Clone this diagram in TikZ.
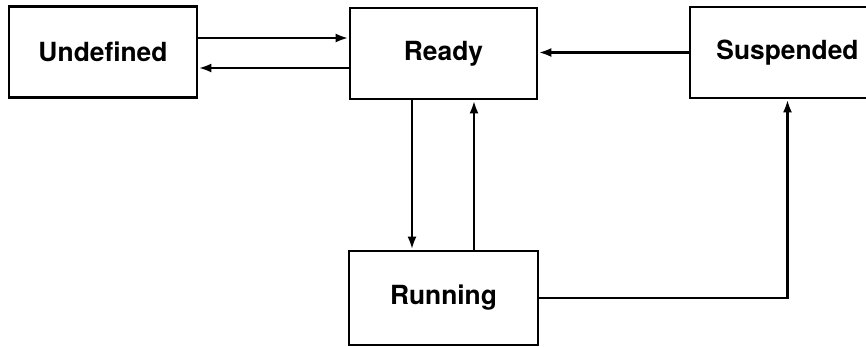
\documentclass[tikz,border=0pt]{standalone}
\usepackage{fontspec}
\setsansfont{TeX Gyre Heros}
\usetikzlibrary{arrows.meta}

\begin{document}
\begin{tikzpicture}[
  state/.style={draw, line width=1.6pt, minimum height=1.82cm, inner sep=0pt,
    font=\sffamily\bfseries\fontsize{15}{17}\selectfont},
  trans/.style={-{Latex[length=2.6mm,width=1.8mm]}, line width=1.6pt}
 ]
 \clip (0,0) rectangle (17.32,-6.92);
 % States
 \node[state, minimum width=3.76cm] (und) at (2.06,-1.04) {Undefined};
 \node[state, minimum width=3.74cm] (rdy) at (8.87,-1.07) {Ready};
 \node[state, minimum width=3.9cm] (sus) at (15.75,-1.05) {Suspended};
 \node[state, minimum width=3.78cm, minimum height=1.88cm] (run) at (8.87,-5.96) {Running};
 % Undefined <-> Ready
 \draw[trans] ([yshift=0.28cm]und.east) -- ([yshift=0.28cm]und.east -| rdy.west);
 \draw[trans] ([yshift=-0.32cm]und.east -| rdy.west) -- ([yshift=-0.32cm]und.east);
 % Suspended -> Ready
 \draw[trans] (sus.west) -- (sus.west -| rdy.east);
 % Ready <-> Running
 \draw[trans] ([xshift=-0.63cm]rdy.south) -- ([xshift=-0.63cm]rdy.south |- run.north);
 \draw[trans] ([xshift=0.61cm]run.north) -- ([xshift=0.61cm]run.north |- rdy.south);
 % Running -> Suspended
 \draw[trans] (run.east) -- (run.east -| sus.south) -- (sus.south);
\end{tikzpicture}
\end{document}
